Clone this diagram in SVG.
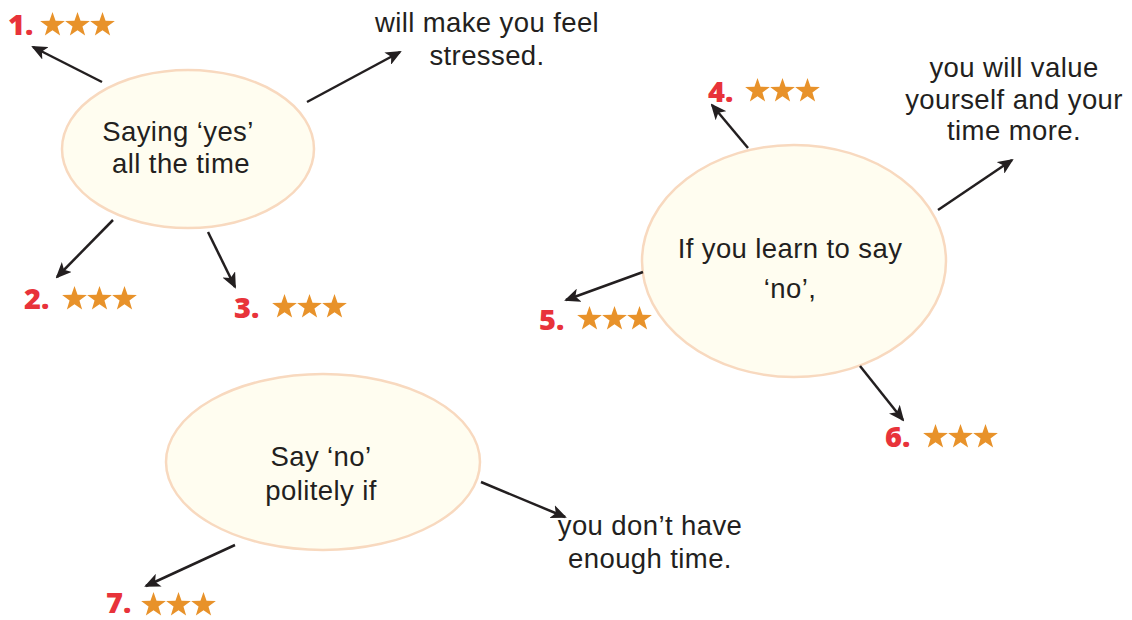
<svg xmlns="http://www.w3.org/2000/svg" xmlns:xlink="http://www.w3.org/1999/xlink" width="1132" height="620" viewBox="0 0 1132 620">
<style>
.bubble{fill:#fffdf0;stroke:#f8d9bf;stroke-width:2.5}
.t{font-family:"Liberation Sans",Arial,sans-serif;font-size:27.5px;letter-spacing:0.4px;fill:#231f20;text-anchor:middle}
.num{font-family:"Open Sans","Liberation Sans",sans-serif;font-size:29px;font-weight:800;fill:#e8333a}
.conn line{stroke:#231f20;stroke-width:2.5;marker-end:url(#ah)}
.star{fill:#e8922a}
</style>
<defs>
<marker id="ah" markerUnits="userSpaceOnUse" markerWidth="16" markerHeight="14" refX="14" refY="7" orient="auto">
<path d="M0,0 L16,7 L0,14 L4,7 Z" fill="#231f20"/>
</marker>
<path id="st" class="star" d="M0,-13 L3.06,-4.21 L12.36,-4.02 L4.95,1.61 L7.64,10.52 L0,5.2 L-7.64,10.52 L-4.95,1.61 L-12.36,-4.02 L-3.06,-4.21 Z"/>
<g id="stars">
<use xlink:href="#st" x="12.5" y="13"/>
<use xlink:href="#st" x="37.5" y="13"/>
<use xlink:href="#st" x="62.5" y="13"/>
</g>
</defs>
<rect width="1132" height="620" fill="#ffffff"/>

<g id="node-yes">
<ellipse class="bubble" cx="188" cy="149" rx="126" ry="79"/>
<text class="t" x="178" y="141">Saying ‘yes’</text>
<text class="t" x="181" y="173">all the time</text>
</g>

<g id="node-learn">
<ellipse class="bubble" cx="794" cy="261" rx="152" ry="116"/>
<text class="t" x="790" y="258">If you learn to say</text>
<text class="t" x="790" y="298">‘no’,</text>
</g>

<g id="node-polite">
<ellipse class="bubble" cx="323" cy="462" rx="157" ry="88"/>
<text class="t" x="321" y="466">Say ‘no’</text>
<text class="t" x="321" y="500">politely if</text>
</g>

<g id="label-stressed">
<text class="t" x="487" y="32">will make you feel</text>
<text class="t" x="487" y="65">stressed.</text>
</g>

<g id="label-value">
<text class="t" x="1014" y="77">you will value</text>
<text class="t" x="1014" y="109">yourself and your</text>
<text class="t" x="1014" y="140">time more.</text>
</g>

<g id="label-time">
<text class="t" x="650" y="535">you don’t have</text>
<text class="t" x="650" y="568">enough time.</text>
</g>

<g id="item-1"><text class="num" x="8" y="35">1.</text><use xlink:href="#stars" x="40" y="12"/></g>
<g id="item-2"><text class="num" x="24" y="309">2.</text><use xlink:href="#stars" x="62" y="286"/></g>
<g id="item-3"><text class="num" x="234" y="318">3.</text><use xlink:href="#stars" x="272" y="294"/></g>
<g id="item-4"><text class="num" x="708" y="102">4.</text><use xlink:href="#stars" x="745" y="78"/></g>
<g id="item-5"><text class="num" x="539" y="330">5.</text><use xlink:href="#stars" x="577" y="306"/></g>
<g id="item-6"><text class="num" x="885" y="447">6.</text><use xlink:href="#stars" x="923" y="424"/></g>
<g id="item-7"><text class="num" x="106" y="613">7.</text><use xlink:href="#stars" x="141" y="592"/></g>

<g id="connectors" class="conn">
<line x1="102" y1="82" x2="33" y2="47"/>
<line x1="307" y1="102" x2="400" y2="52"/>
<line x1="113" y1="220" x2="57" y2="277"/>
<line x1="208" y1="232" x2="235" y2="287"/>
<line x1="748" y1="148" x2="712" y2="105"/>
<line x1="938" y1="210" x2="1012" y2="160"/>
<line x1="643" y1="272" x2="566" y2="300"/>
<line x1="860" y1="366" x2="903" y2="420"/>
<line x1="235" y1="545" x2="146" y2="586"/>
<line x1="481" y1="482" x2="565" y2="517"/>
</g>
</svg>
